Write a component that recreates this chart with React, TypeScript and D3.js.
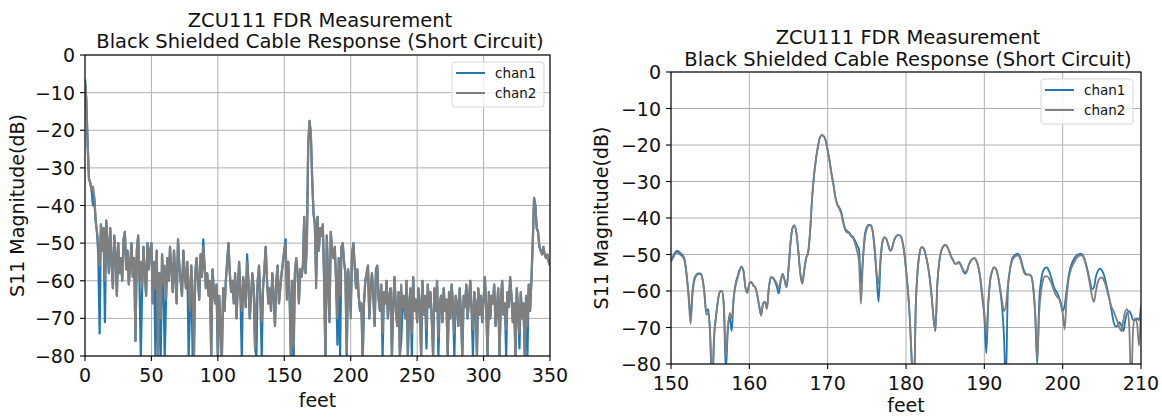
import React from "react";
import * as d3 from "d3";

const seriesNames = ["chan1", "chan2"];
const seriesColors = ["#1f77b4", "#7f7f7f"];

const titleLines = ["ZCU111 FDR Measurement", "Black Shielded Cable Response (Short Circuit)"];
const xLabel = "feet";
const yLabel = "S11 Magnitude(dB)";

// full sweep, one sample per foot from 0 to 350 ft
const fullStart = 0;
const fullStep = 1;
const fullChan2 = [
  -6.5, -12, -24, -33, -34, -36, -35, -38, -44, -47,
  -50, -56, -45, -52, -46, -60, -44, -50, -58, -46,
  -55, -62, -48, -53, -64, -50, -58, -54, -60, -49,
  -47, -57, -52, -61, -56, -50, -59, -54, -76, -52,
  -48, -60, -55, -62, -51, -58, -64, -50, -57, -52,
  -50, -66, -55, -62, -52, -80, -58, -70, -53, -61,
  -56, -65, -54, -60, -51, -57, -63, -52, -59, -66,
  -49, -56, -60, -64, -52, -58, -62, -55, -61, -68,
  -56, -62, -80, -58, -54, -60, -65, -53, -59, -51,
  -56, -62, -58, -64, -60, -80, -57, -63, -66, -61,
  -80, -64, -72, -80, -62, -68, -60, -55, -50, -58,
  -63, -60, -66, -58, -70, -62, -55, -64, -68, -59,
  -62, -67, -55, -60, -70, -64, -58, -62, -78, -66,
  -60, -56, -65, -71, -62, -57, -51, -60, -66, -62,
  -68, -58, -64, -72, -60, -56, -66, -62, -58, -55,
  -52, -50, -65, -55, -64, -80, -60, -78, -58, -54,
  -58, -66, -57, -59, -56, -43, -58, -50, -24, -17.5,
  -21, -33, -42, -45, -62, -43, -52, -46, -48, -45,
  -60, -80, -48, -60, -71, -47, -52, -54, -51, -60,
  -70, -54, -64, -51, -50, -55, -58, -79, -57, -61,
  -70, -53, -50, -56, -62, -57, -64, -68, -66, -80,
  -66, -60, -58, -56, -70, -62, -58, -64, -72, -57,
  -56, -65, -68, -61, -74, -63, -66, -60, -70, -64,
  -62, -80, -66, -59, -68, -72, -63, -80, -61, -67,
  -64, -70, -60, -80, -66, -62, -74, -59, -68, -65,
  -71, -62, -66, -80, -60, -69, -64, -73, -61, -67,
  -63, -70, -80, -62, -68, -60, -75, -66, -64, -71,
  -62, -68, -65, -80, -63, -70, -61, -67, -74, -64,
  -66, -72, -62, -69, -80, -64, -67, -61, -70, -65,
  -60, -68, -73, -63, -66, -80, -62, -69, -64, -71,
  -65, -59, -67, -80, -63, -70, -64, -66, -61, -72,
  -68, -62, -80, -65, -60, -69, -66, -73, -63, -67,
  -59, -64, -71, -66, -80, -62, -68, -74, -63, -70,
  -66, -80, -64, -72, -61, -68, -60, -50, -38, -40,
  -46, -47, -51, -52, -53, -51, -53, -54, -53, -55,
  -56,
];
const fullChan1 = [
  -6.5, -12, -24, -33, -34, -36, -40, -38, -44, -47,
  -53, -74, -45, -52, -46, -71, -44, -50, -58, -46,
  -55, -62, -48, -53, -64, -50, -58, -54, -60, -49,
  -47, -57, -52, -61, -56, -50, -59, -54, -76, -52,
  -48, -60, -80, -62, -51, -58, -64, -50, -57, -52,
  -50, -66, -55, -80, -52, -80, -58, -80, -53, -61,
  -80, -65, -54, -60, -51, -57, -63, -52, -59, -66,
  -49, -56, -60, -64, -52, -58, -62, -55, -80, -68,
  -56, -80, -80, -58, -54, -60, -65, -53, -59, -49,
  -56, -62, -58, -64, -60, -80, -57, -63, -66, -61,
  -82, -64, -72, -82, -62, -68, -60, -55, -50, -58,
  -63, -60, -66, -58, -70, -62, -55, -64, -80, -59,
  -62, -67, -53, -60, -70, -64, -58, -62, -78, -80,
  -60, -56, -65, -80, -62, -57, -51, -60, -66, -62,
  -68, -58, -64, -72, -60, -56, -66, -62, -58, -55,
  -52, -49, -65, -55, -64, -82, -60, -82, -58, -54,
  -58, -66, -57, -59, -56, -43, -58, -50, -24, -17.5,
  -21, -33, -42, -45, -60, -43, -52, -46, -48, -45,
  -60, -82, -48, -60, -71, -47, -52, -54, -51, -60,
  -77, -54, -80, -51, -50, -55, -58, -80, -57, -61,
  -68, -53, -50, -56, -62, -57, -64, -68, -66, -82,
  -66, -60, -58, -56, -70, -62, -58, -64, -72, -57,
  -56, -65, -68, -61, -80, -63, -66, -60, -70, -64,
  -62, -80, -66, -59, -68, -72, -63, -80, -76, -67,
  -64, -70, -60, -80, -66, -62, -80, -59, -68, -65,
  -71, -62, -66, -80, -60, -69, -64, -78, -61, -67,
  -63, -70, -80, -62, -68, -60, -80, -66, -64, -71,
  -62, -68, -65, -80, -63, -70, -61, -67, -80, -64,
  -66, -72, -62, -69, -80, -64, -67, -61, -70, -65,
  -60, -68, -80, -63, -66, -80, -62, -69, -64, -71,
  -65, -59, -67, -80, -63, -70, -64, -66, -61, -72,
  -68, -62, -80, -65, -60, -69, -66, -80, -63, -67,
  -59, -64, -71, -66, -80, -62, -68, -78, -63, -70,
  -66, -80, -64, -80, -61, -68, -60, -50, -38, -40,
  -46, -47, -51, -52, -53, -51, -53, -54, -53, -55,
  -56,
];

// zoom on the cable-end reflection, 150 to 210 ft in 0.25 ft steps (8 per row)
const zoomStart = 150;
const zoomStep = 0.25;
const zoomChan2 = [
  -52, -51, -50, -49.5, -49.7, -50.2, -50.7, -52,
  -56, -62, -69, -61, -57, -55.8, -55.4, -55.3,
  -56.5, -60.5, -66.5, -66, -72, -86, -72, -67,
  -62.5, -60.2, -60, -64, -78, -70, -66, -67.5,
  -62, -58.5, -56.5, -54.5, -53.5, -54.5, -59, -60.5,
  -58, -57.5, -58.5, -59, -61, -64, -66.8, -63.5,
  -63, -65, -59, -56.2, -56.3, -57, -58, -59.3,
  -57, -55.3, -57, -59, -54, -47, -42.8, -42,
  -44, -49, -55, -58, -54.5, -51, -49.5, -44,
  -35, -28.5, -24, -20.5, -18, -17.3, -17.6, -18.8,
  -21.5, -24.5, -28, -31, -34.5, -36.5, -37.5, -39,
  -41.5, -43.3, -44, -44.2, -45, -45.5, -47, -49,
  -52, -63.5, -52, -45.5, -43, -42, -42, -43.5,
  -48, -55, -58, -51, -46.5, -45.3, -45.8, -47.5,
  -49, -48, -46, -45, -44.7, -44.8, -46, -49,
  -54, -60, -68, -80, -88, -64, -54, -49.5,
  -48, -48.3, -50, -52.5, -56, -61, -67, -71,
  -58, -52, -49, -47.8, -47.4, -47.8, -49, -50.5,
  -51.5, -52.5, -52.5, -52, -52.8, -54, -54.8, -54.5,
  -53, -51.8, -51.2, -51, -51.8, -53.5, -56.5, -61,
  -66, -72, -63, -57, -54.5, -53.5, -54, -56,
  -59, -62.5, -65.5, -64, -58.5, -54.5, -52, -51,
  -50.4, -50.2, -50.7, -52.5, -54.5, -55.5, -55.5, -55.5,
  -56, -59, -66, -79, -66, -60, -57, -56,
  -56, -56.5, -57.5, -59, -60.5, -61.5, -62, -63,
  -66, -70.5, -62, -57, -54.5, -53, -52, -51,
  -50.5, -50.2, -50.3, -51.2, -53, -55.5, -58.5, -61.5,
  -63, -60, -57.5, -56.5, -56.3, -57, -58.5, -60.5,
  -62.5, -64.5, -65.5, -67, -68.5, -70, -71, -68,
  -65.5, -65, -70, -86, -70, -67.5, -69, -75,
  -64,
];
const zoomChan1 = [
  -51.5, -50.5, -49.5, -49, -49.2, -49.7, -50.2, -51.5,
  -55.5, -61, -67, -60, -56.5, -55.5, -55.2, -55.2,
  -56.5, -60, -65.5, -65, -72, -88, -73, -67,
  -62.5, -60.2, -60, -64.5, -82, -71, -67, -71,
  -62, -58, -56, -54.2, -53.3, -54.5, -59, -60.5,
  -58, -57.5, -58.5, -59, -61, -64, -66.5, -63.5,
  -63, -64.5, -59, -56.2, -56.5, -57.3, -58.8, -60.7,
  -57.5, -55.3, -57, -59, -54, -47, -42.8, -42,
  -44, -49, -55, -58, -54.5, -51, -49.5, -44,
  -35, -28.5, -24, -20.5, -18, -17.3, -17.6, -18.8,
  -21.5, -24.5, -28, -31, -34.5, -36.3, -37.2, -38.5,
  -41, -43, -43.6, -44, -44.8, -45.2, -46.2, -47.5,
  -48.6, -58, -51, -44.5, -42.5, -41.8, -42, -43.8,
  -49, -56, -63, -52, -46.5, -45.3, -45.8, -47.5,
  -49, -48, -46, -45, -44.7, -44.8, -46, -49,
  -54, -60, -68, -80, -88, -64, -54, -49.5,
  -48, -48.3, -50, -52.5, -56, -61, -67, -71,
  -58, -52, -49, -47.8, -47.4, -47.8, -49, -50.5,
  -51.5, -52.5, -52.5, -52, -53, -54.3, -55.2, -54.8,
  -53, -51.8, -51.2, -51, -51.8, -53.5, -57, -62,
  -67, -77, -64, -57, -54.5, -53.5, -54, -56,
  -59.5, -64, -72, -86, -60, -54.5, -51.5, -50.5,
  -50, -49.8, -50.3, -52, -54, -55.2, -55.5, -55.5,
  -56, -59.5, -67, -80, -63, -57, -54.5, -53.7,
  -53.5, -54.5, -56, -58, -59.5, -60.3, -61.5, -63.5,
  -65.5, -64, -60, -56, -53.5, -52, -51, -50.3,
  -50, -49.8, -50, -51, -52.8, -55, -57.5, -59.5,
  -59, -56, -54.5, -53.9, -54.3, -55.5, -57.5, -60,
  -62.5, -65.5, -68.5, -69.7, -69.5, -68.5, -69.5, -71,
  -68, -66, -65.5, -66.5, -68, -68, -67.5, -68,
  -64,
];

const fullTicksX = [0, 50, 100, 150, 200, 250, 300, 350];
const zoomTicksX = [150, 160, 170, 180, 190, 200, 210];
const ticksY = [0, -10, -20, -30, -40, -50, -60, -70, -80];

const FONT = "DejaVu Sans, sans-serif";
const minus = (v: number) => (v < 0 ? "\u2212" + Math.abs(v) : String(v));

type PanelProps = {
  id: string;
  left: number; right: number; top: number; bottom: number;
  xDomain: [number, number];
  xTicks: number[];
  start: number; step: number;
  chan1: number[]; chan2: number[];
  curve: d3.CurveFactory;
  lineWidth: number;
  titleX: number; titleY: number;
  yLabelX: number; xLabelY: number;
  legendX: number; legendY: number;
};

function Panel(p: PanelProps) {
  const x = d3.scaleLinear().domain(p.xDomain).range([p.left, p.right]);
  const y = d3.scaleLinear().domain([-80, 0]).range([p.bottom, p.top]);
  const line = d3
    .line<number>()
    .x((_, i) => x(p.start + i * p.step))
    .y((d) => y(d))
    .curve(p.curve);
  const series = [p.chan1, p.chan2];
  const midY = (p.top + p.bottom) / 2;

  return (
    <g>
      <defs>
        <clipPath id={"clip-" + p.id}>
          <rect x={p.left} y={p.top} width={p.right - p.left} height={p.bottom - p.top} />
        </clipPath>
      </defs>
      {/* grid */}
      {p.xTicks.map((t) => (
        <line key={"gx" + t} x1={x(t)} x2={x(t)} y1={p.top} y2={p.bottom} stroke="#b0b0b0" strokeWidth={1} />
      ))}
      {ticksY.map((t) => (
        <line key={"gy" + t} x1={p.left} x2={p.right} y1={y(t)} y2={y(t)} stroke="#b0b0b0" strokeWidth={1} />
      ))}
      {/* data */}
      <g clipPath={`url(#clip-${p.id})`}>
        {series.map((s, i) => (
          <path
            key={seriesNames[i]}
            d={line(s) || ""}
            fill="none"
            stroke={seriesColors[i]}
            strokeWidth={p.lineWidth}
            strokeLinejoin="round"
          />
        ))}
      </g>
      {/* frame */}
      <rect x={p.left} y={p.top} width={p.right - p.left} height={p.bottom - p.top} fill="none" stroke="#000" strokeWidth={1.1} />
      {/* x ticks */}
      {p.xTicks.map((t) => (
        <g key={"tx" + t}>
          <line x1={x(t)} x2={x(t)} y1={p.bottom} y2={p.bottom + 5} stroke="#000" strokeWidth={1.1} />
          <text x={x(t)} y={p.bottom + 26} textAnchor="middle" fontSize={19} fontFamily={FONT} fill="#111">
            {t}
          </text>
        </g>
      ))}
      {/* y ticks */}
      {ticksY.map((t) => (
        <g key={"ty" + t}>
          <line x1={p.left - 5} x2={p.left} y1={y(t)} y2={y(t)} stroke="#000" strokeWidth={1.1} />
          <text x={p.left - 10} y={y(t) + 7} textAnchor="end" fontSize={19} fontFamily={FONT} fill="#111">
            {minus(t)}
          </text>
        </g>
      ))}
      {/* labels */}
      <text x={(p.left + p.right) / 2} y={p.xLabelY} textAnchor="middle" fontSize={19} fontFamily={FONT} fill="#111">
        {xLabel}
      </text>
      <text
        transform={`translate(${p.yLabelX},${midY}) rotate(-90)`}
        textAnchor="middle"
        fontSize={19}
        fontFamily={FONT}
        fill="#111"
      >
        {yLabel}
      </text>
      {titleLines.map((t, i) => (
        <text key={t} x={p.titleX} y={p.titleY + i * 21.5} textAnchor="middle" fontSize={19.5} fontFamily={FONT} fill="#111">
          {t}
        </text>
      ))}
      {/* legend */}
      <rect x={p.legendX} y={p.legendY} width={92} height={45} rx={3} fill="#fff" fillOpacity={0.8} stroke="#d6d6d6" />
      {seriesNames.map((n, i) => (
        <g key={n}>
          <line
            x1={p.legendX + 4}
            x2={p.legendX + 33}
            y1={p.legendY + 11 + i * 20}
            y2={p.legendY + 11 + i * 20}
            stroke={seriesColors[i]}
            strokeWidth={2}
          />
          <text x={p.legendX + 43} y={p.legendY + 16 + i * 20} fontSize={13.5} fontFamily={FONT} fill="#111">
            {n}
          </text>
        </g>
      ))}
    </g>
  );
}

export default function App() {
  return (
    <svg width={1162} height={417} style={{ position: "absolute", left: 0, top: 0, background: "#fff" }}>
      <rect width={1162} height={417} fill="#fff" />
      <Panel
        id="full"
        left={85} right={550} top={55} bottom={356}
        xDomain={[0, 350]} xTicks={fullTicksX}
        start={fullStart} step={fullStep}
        chan1={fullChan1} chan2={fullChan2}
        curve={d3.curveLinear} lineWidth={2.2}
        titleX={320} titleY={26.5}
        yLabelX={24} xLabelY={407}
        legendX={452} legendY={62}
      />
      <Panel
        id="zoom"
        left={671} right={1141} top={72} bottom={364}
        xDomain={[150, 210]} xTicks={zoomTicksX}
        start={zoomStart} step={zoomStep}
        chan1={zoomChan1} chan2={zoomChan2}
        curve={d3.curveMonotoneX} lineWidth={1.8}
        titleX={908} titleY={44}
        yLabelX={608} xLabelY={412}
        legendX={1041} legendY={79}
      />
    </svg>
  );
}
